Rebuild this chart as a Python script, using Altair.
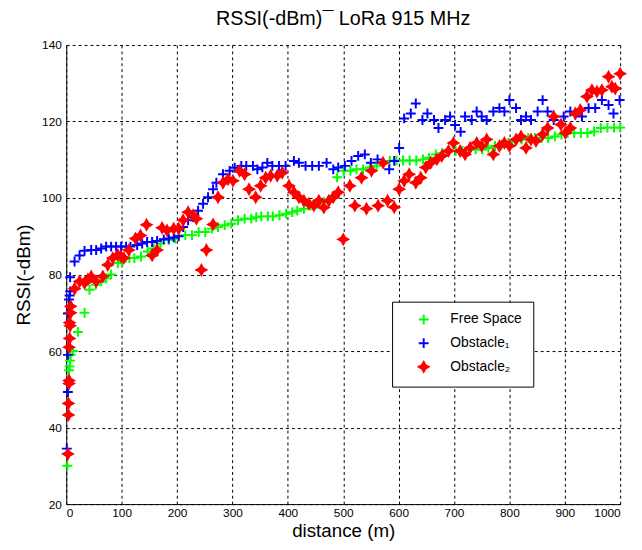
import altair as alt
import pandas as pd

# ---- data (distance in m, RSSI in -dBm) ----
free_space = [
    (2, 30), (5, 55), (6, 56), (7, 57.5), (8, 59), (12, 60), (21, 65), (33, 70),
    (42, 76), (53, 77.3), (63, 78.2), (72, 79), (81, 80), (93, 83), (101, 83.4),
    (114, 84.3), (123, 84.3), (135, 84.7), (147, 86), (158, 86.8), (170, 88.1),
    (185, 89), (197, 89.4), (215, 90.3), (227, 90.3), (239, 91.1), (251, 91.1),
    (263, 92), (274, 92.4), (286, 92.9), (298, 93.3), (310, 94.2), (322, 94.6),
    (334, 94.6), (343, 95), (352, 95.2), (364, 95.2), (373, 95.2), (385, 95.5),
    (397, 95.9), (408, 96.3), (417, 96.7), (429, 97.2), (441, 98), (453, 98.5),
    (465, 98.9), (489, 105.4), (501, 107.1), (513, 107.1), (524, 107.5),
    (536, 107.5), (548, 108), (560, 108.4), (572, 109.2), (584, 109.7),
    (596, 109.8), (608, 109.8), (620, 109.8), (632, 109.8), (644, 110.1),
    (655, 110.5), (667, 111.4), (679, 111.8), (691, 112.3), (703, 112.3),
    (715, 112.4), (727, 112.7), (739, 112.7), (751, 112.7), (762, 113.1),
    (774, 113.6), (786, 114), (798, 114.4), (810, 114.9), (822, 115.3),
    (834, 115.7), (846, 115.7), (858, 115.7), (870, 115.7), (882, 116.1),
    (894, 116.6), (905, 117), (917, 117), (929, 117), (941, 117), (953, 117.4),
    (965, 118.3), (977, 118.4), (989, 118.4), (1000, 118.4),
]

obstacle_1 = [
    (1, 34.5), (3, 49.3), (3, 59), (3, 69.8), (5, 73.5), (6, 74.5), (7, 75.6),
    (7, 79.3), (15, 83.4), (24, 85), (33, 86.2), (45, 86.4), (54, 86.4),
    (63, 86.8), (72, 87.3), (81, 87.3), (90, 87.3), (99, 87.3), (108, 87.3),
    (116, 87.3), (128, 87.7), (137, 88.1), (146, 88.5), (155, 88.5), (164, 88.8),
    (176, 89.2), (185, 89.4), (194, 89.7), (203, 90), (211, 92.4), (220, 94.2),
    (229, 95), (238, 96.7), (247, 98.5), (256, 100.2), (265, 102.3), (271, 104),
    (283, 106.2), (295, 107.1), (304, 107.9), (316, 108.4), (325, 108.4),
    (337, 108.4), (345, 107.5), (354, 108), (363, 109.2), (372, 108.4),
    (384, 108.4), (396, 108.4), (411, 109.7), (420, 109.2), (432, 108.4),
    (444, 108.4), (456, 108.4), (470, 109.2), (482, 107.5), (491, 108),
    (503, 108.4), (515, 109.7), (527, 111), (539, 111.4), (550, 109.2),
    (562, 110.1), (583, 107.5), (592, 109.7), (601, 113.1), (610, 120.8),
    (622, 122.1), (631, 124.7), (643, 120.4), (652, 122.1), (664, 120.4),
    (672, 118.3), (684, 120.4), (693, 121.3), (702, 119.1), (712, 117.3),
    (720, 121.3), (732, 120.4), (741, 122.6), (750, 121.3), (759, 120.4),
    (771, 122.6), (782, 123.5), (791, 122.6), (800, 125.6), (812, 123.5),
    (821, 120.4), (830, 121.3), (839, 120.4), (851, 122.6), (860, 125.6),
    (869, 122.6), (880, 120.4), (898, 121.3), (910, 122.6), (919, 121.8),
    (931, 121.3), (943, 123.5), (955, 123.5), (967, 125.6), (979, 124.3),
    (988, 122.1), (999, 125.6),
]

obstacle_2 = [
    (3, 33.1), (4, 43.3), (4, 46.3), (5, 51.5), (5, 52.3), (5, 61), (6, 63.3),
    (7, 66.6), (6, 67.4), (8, 70), (8, 71.7), (15, 76.3), (24, 78.2), (33, 77.8),
    (39, 78.7), (45, 79.5), (54, 78.2), (66, 79.5), (75, 82.5), (84, 84.3),
    (93, 85.1), (99, 84.7), (104, 84.3), (113, 86.4), (125, 89.4), (134, 90.2),
    (145, 93), (155, 85), (164, 86.4), (173, 92.2), (182, 91.5), (194, 92),
    (203, 92), (211, 94.2), (220, 96.3), (229, 95.5), (235, 94.6), (244, 81.2),
    (253, 86.4), (265, 93.1), (274, 100.2), (283, 104), (292, 104.9),
    (301, 104.5), (313, 107.1), (322, 106.2), (330, 102.3), (342, 100.2),
    (351, 103.2), (360, 105.3), (369, 105.8), (381, 105.8), (390, 106.6),
    (402, 103.2), (411, 101.5), (420, 100.2), (429, 99.3), (438, 98.5),
    (447, 98), (456, 99.3), (465, 97.5), (474, 99.3), (482, 100.2), (491, 101.5),
    (500, 89.2), (512, 103.2), (521, 98), (533, 105.3), (542, 97.2), (551, 107.1),
    (563, 98), (572, 109.2), (580, 99.3), (592, 97.6), (601, 102.3), (610, 104.5),
    (619, 106.2), (631, 104), (640, 105.3), (649, 108), (658, 109.2),
    (669, 110.1), (678, 111), (690, 112.3), (699, 114.4), (711, 112.3),
    (720, 111.4), (729, 113.1), (741, 114.4), (750, 113.6), (759, 115.3),
    (771, 111.4), (782, 113.6), (791, 114.4), (800, 113.6), (812, 115.3),
    (821, 116.1), (830, 113.1), (839, 115.3), (848, 114.9), (860, 116.6),
    (869, 118.3), (880, 121.3), (893, 119.2), (901, 117), (910, 118.3),
    (919, 122.1), (928, 123), (940, 126.5), (949, 128.2), (958, 127.8),
    (967, 128.2), (979, 131.7), (985, 129.1), (991, 128.6), (1000, 132.5),
]

series_names = ["Free Space", "Obstacle\u2081", "Obstacle\u2082"]
series_colors = ["#00ff00", "#0000ff", "#ff0000"]
x_ticks = [0, 100, 200, 300, 400, 500, 600, 700, 800, 900, 1000]
y_ticks = [20, 40, 60, 80, 100, 120, 140]

PLUS = "M-1,0L1,0M0,-1L0,1"
STAR = "M0,-1L0.36,-0.36L1,0L0.36,0.36L0,1L-0.36,0.36L-1,0L-0.36,-0.36Z"

rows = []
for name, pts in zip(series_names, [free_space, obstacle_1, obstacle_2]):
    for d, r in pts:
        rows.append({"distance": d, "rssi": r, "series": name})
df = pd.DataFrame(rows)

FONT = "Liberation Sans"

legend = alt.Legend(
    title=None, orient="none", legendX=330, legendY=260, direction="vertical",
    fillColor="white", strokeColor="black", padding=11, cornerRadius=0,
    symbolSize=100, symbolStrokeWidth=2, symbolOffset=14,
    labelFont=FONT, labelFontSize=14, labelColor="black", labelOffset=20, rowPadding=6,
)

color_scale = alt.Scale(domain=series_names, range=series_colors)

chart = alt.Chart(df).mark_point(filled=True, opacity=1, size=100).encode(
    x=alt.X("distance:Q", scale=alt.Scale(domain=[0, 1000], nice=False),
            axis=alt.Axis(values=x_ticks, format="d", title="distance (m)",
                          titlePadding=3, labelPadding=4)),
    y=alt.Y("rssi:Q", scale=alt.Scale(domain=[20, 140], nice=False),
            axis=alt.Axis(values=y_ticks, format="d", title="RSSI(-dBm)",
                          titlePadding=8, labelPadding=5)),
    color=alt.Color("series:N", scale=color_scale, legend=legend),
    stroke=alt.Stroke("series:N", scale=color_scale, legend=legend),
    shape=alt.Shape("series:N", scale=alt.Scale(domain=series_names, range=[PLUS, PLUS, STAR]),
                    legend=legend),
    size=alt.Size("series:N", scale=alt.Scale(domain=series_names, range=[100, 100, 85]),
                  legend=None),
    strokeWidth=alt.StrokeWidth("series:N",
                                scale=alt.Scale(domain=series_names, range=[2, 2, 1.3]),
                                legend=None),
).properties(
    width=561, height=465,
    title=alt.TitleParams("RSSI(-dBm)\u00af LoRa 915 MHz", font=FONT, fontSize=20,
                          fontWeight="normal", color="black", anchor="middle", offset=10),
    autosize=alt.AutoSizeParams(type="none"),
    padding={"left": 59, "top": 34, "right": 14, "bottom": 40},
).configure_view(stroke=None).configure_axis(
    grid=True, gridColor="black", gridDash=[3, 3], gridOpacity=1, gridWidth=1,
    domainColor="black", domainWidth=1, ticks=False,
    labelFont=FONT, labelFontSize=12, labelColor="black",
    titleFont=FONT, titleFontSize=19, titleFontWeight="normal", titleColor="black",
)

chart.save("out.html", embed_options={"renderer": "svg", "actions": False})
